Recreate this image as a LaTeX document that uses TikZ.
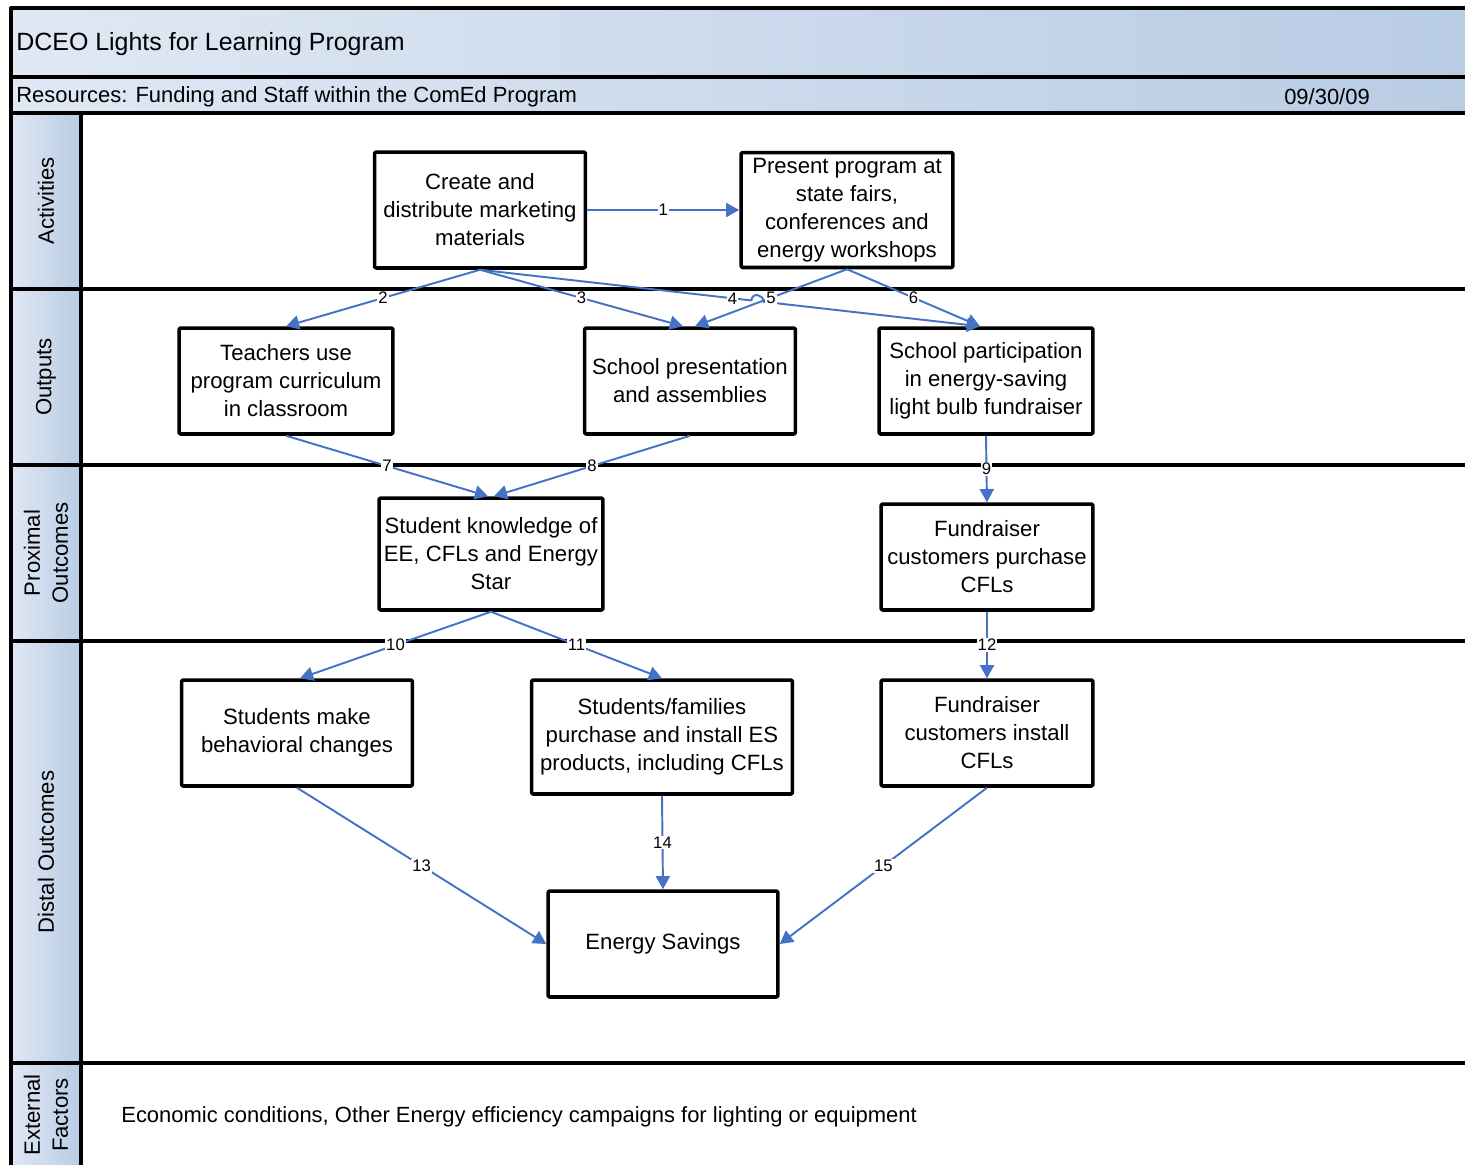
\documentclass[tikz,border=0pt]{standalone}
\usepackage{fontspec}
\setmainfont{Liberation Sans}
\usetikzlibrary{arrows.meta,calc}
\definecolor{flowblue}{RGB}{68,114,196}
\definecolor{bandlight}{RGB}{224,232,244}
\definecolor{banddark}{RGB}{184,204,228}
\begin{document}
\begin{tikzpicture}[x=0.02cm, y=-0.02cm, line join=round, >={Triangle[length=7.5pt,width=8pt]},
	frame/.style={line width=2.3pt},
	band/.style={left color=bandlight, right color=banddark},
	box/.style={draw, line width=2pt, rounded corners=0.8pt, align=center, inner sep=1pt, font=\fontsize{12.6}{15.9}\selectfont},
	flow/.style={->, draw=flowblue, line width=1.1pt},
	lbl/.style={fill=white, inner sep=0.6pt, font=\fontsize{9.5}{10}\selectfont},
	side/.style={rotate=90, align=center, font=\fontsize{12.6}{15.9}\selectfont}]
	\useasboundingbox (0,0) rectangle (1465,1164);
	\clip (0,0) rectangle (1465,1164);
	% frame
	\shade[band] (11,8) rectangle (1470,77);
	\shade[band] (11,77) rectangle (1470,113);
	\foreach \ya/\yb in {113/289,289/465,465/641,641/1063,1063/1170} \shade[band] (11,\ya) rectangle (81,\yb);
	\draw[frame] (11,1170)--(11,8)--(1470,8);
	\foreach \y in {77,113,289,465,641,1063} \draw[frame] (11,\y)--(1470,\y);
	\draw[frame] (81,113)--(81,1170);
	\node[anchor=west, inner sep=0pt, font=\fontsize{14.2}{17}\selectfont] (title) at (16,44) {DCEO Lights for Learning Program};
	\node[anchor=west, inner sep=0pt, font=\fontsize{12.5}{15}\selectfont] (res) at (16,97) {Resources: Funding and Staff within the ComEd Program};
	\node[font=\fontsize{12.5}{15}\selectfont] (date) at (1327,97) {09/30/09};
	\node[side] (sact) at (46,201) {Activities};
	\node[side] (sout) at (46,377) {Outputs};
	\node[side] (sprox) at (46,553) {Proximal\\Outcomes};
	\node[side] (sdist) at (46,852) {Distal Outcomes};
	\node[side] (sext) at (46,1115) {External\\Factors};
	\node[anchor=west, inner sep=0pt, font=\fontsize{12.5}{15}\selectfont] (ext) at (121,1117) {Economic conditions, Other Energy efficiency campaigns for lighting or equipment};
	% boxes
	\node[box, minimum width=4.22cm, minimum height=2.32cm] (act1) at (480,210) {Create and\\distribute marketing\\materials};
	\node[box, minimum width=4.24cm, minimum height=2.30cm] (act2) at (847,210) {Present program at\\state fairs,\\conferences and\\energy workshops};
	\node[box, minimum width=4.28cm, minimum height=2.12cm] (out1) at (286,381) {Teachers use\\program curriculum\\in classroom};
	\node[box, minimum width=4.22cm, minimum height=2.12cm] (out2) at (690,381) {School presentation\\and assemblies};
	\node[box, minimum width=4.28cm, minimum height=2.12cm] (out3) at (986,381) {School participation\\in energy-saving\\light bulb fundraiser};
	\node[box, minimum width=4.48cm, minimum height=2.24cm] (prox1) at (491,554) {Student knowledge of\\EE, CFLs and Energy\\Star};
	\node[box, minimum width=4.24cm, minimum height=2.12cm] (prox2) at (987,557) {Fundraiser\\customers purchase\\CFLs};
	\node[box, minimum width=4.62cm, minimum height=2.12cm] (dist1) at (297,733) {Students make\\behavioral changes};
	\node[box, minimum width=5.22cm, minimum height=2.28cm] (dist2) at (662,737) {Students/families\\purchase and install ES\\products, including CFLs};
	\node[box, minimum width=4.24cm, minimum height=2.12cm] (dist3) at (987,733) {Fundraiser\\customers install\\CFLs};
	\node[box, minimum width=4.60cm, minimum height=2.12cm] (save) at (663,944) {Energy Savings};
	% links
	\coordinate (t4) at ($(out3.north)+(-6,0)$);
	\coordinate (h1) at ($(act1.south)!0.543!(t4)$);
	\coordinate (h2) at ($(act1.south)!0.567!(t4)$);
	\draw[flow] (act1.east) -- node[lbl]{1} (act2.west);
	\draw[flow] (act1.south) -- node[lbl]{2} (out1.north);
	\draw[flow] (act1.south) -- node[lbl]{3} ($(out2.north)+(-7,0)$);
	\draw[flow] (act1.south) -- node[lbl, pos=0.93]{4} (h1) .. controls +(0,-8) and +(0,-8) .. (h2) -- (t4);
	\draw[flow] (act2.south) -- node[lbl]{5} ($(out2.north)+(5,0)$);
	\draw[flow] (act2.south) -- node[lbl]{6} (t4);
	\draw[flow] (out1.south) -- node[lbl]{7} ($(prox1.north)+(-3,0)$);
	\draw[flow] (out2.south) -- node[lbl]{8} ($(prox1.north)+(3,0)$);
	\draw[flow] (out3.south) -- node[lbl]{9} (prox2.north);
	\draw[flow] (prox1.south) -- node[lbl]{10} ($(dist1.north)+(3,0)$);
	\draw[flow] (prox1.south) -- node[lbl]{11} (dist2.north);
	\draw[flow] (prox2.south) -- node[lbl]{12} (dist3.north);
	\draw[flow] (dist1.south) -- node[lbl]{13} (save.west);
	\draw[flow] (dist2.south) -- node[lbl]{14} (save.north);
	\draw[flow] (dist3.south) -- node[lbl]{15} (save.east);
\end{tikzpicture}
\end{document}
